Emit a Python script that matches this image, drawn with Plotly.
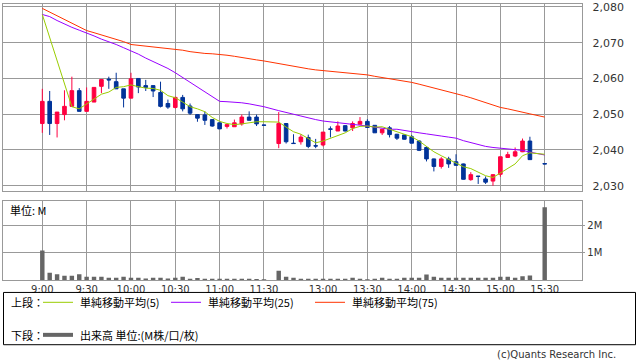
import plotly.graph_objects as go

W, H = 638, 362

# ---------------- data ----------------
time_labels = ["9:00", "9:30", "10:00", "10:30", "11:00", "11:30",
               "13:00", "13:30", "14:00", "14:30", "15:00", "15:30"]
time_tick_pos = [0, 6, 12, 18, 24, 30, 38, 44, 50, 56, 62, 68]

# 5-minute bar slots (slot 31 = lunch gap, slot 67 = pre-close gap)
bar_pos = list(range(0, 31)) + list(range(32, 67)) + [68]

opens = [2047.4, 2053.6, 2047.4, 2049.9, 2052.2, 2056.6, 2050.8, 2053.4, 2057.8, 2059.8,
         2059.1, 2057.1, 2054.5, 2060.0, 2058.0, 2058.0, 2056.1, 2053.0, 2051.9, 2054.7,
         2052.3, 2049.9, 2049.8, 2048.5, 2047.6, 2046.6, 2046.5, 2047.3, 2049.2, 2049.2,
         2047.0,
         2041.8, 2047.4, 2041.9, 2042.3, 2043.5, 2041.2, 2041.4, 2045.9, 2045.3, 2046.8,
         2046.2, 2047.2, 2048.0, 2046.9, 2044.8, 2046.2, 2044.4, 2044.2, 2043.7, 2042.5,
         2040.7, 2037.5, 2035.4, 2037.5, 2036.7, 2036.1, 2031.7, 2032.7, 2031.9, 2031.3,
         2033.2, 2037.9, 2038.3, 2039.5, 2042.5,
         2036.2]
highs = [2057.1, 2056.5, 2050.6, 2056.7, 2060.5, 2057.3, 2057.5, 2057.5, 2059.7, 2060.5,
         2061.6, 2057.1, 2061.6, 2060.0, 2059.6, 2058.0, 2059.1, 2054.1, 2054.9, 2055.4,
         2053.0, 2049.9, 2050.8, 2048.6, 2047.6, 2047.1, 2048.5, 2049.9, 2050.8, 2049.9,
         2047.0,
         2050.6, 2047.5, 2044.4, 2044.4, 2044.3, 2043.1, 2045.0, 2046.6, 2048.0, 2046.9,
         2048.0, 2049.2, 2048.6, 2046.9, 2045.8, 2046.7, 2044.5, 2044.3, 2044.2, 2042.7,
         2041.0, 2037.6, 2038.0, 2038.1, 2038.8, 2036.2, 2033.8, 2032.7, 2032.6, 2033.2,
         2038.1, 2039.5, 2040.7, 2043.2, 2043.7,
         2036.2]
lows = [2044.8, 2044.2, 2043.5, 2048.3, 2052.0, 2050.8, 2050.8, 2053.4, 2055.9, 2057.1,
        2057.1, 2051.9, 2054.5, 2055.9, 2056.5, 2054.8, 2051.9, 2051.5, 2051.6, 2050.8,
        2049.8, 2047.9, 2047.0, 2046.5, 2045.9, 2046.0, 2046.5, 2046.8, 2048.3, 2046.7,
        2046.9,
        2040.5, 2041.8, 2041.8, 2041.5, 2040.5, 2040.5, 2041.0, 2043.5, 2045.3, 2045.2,
        2045.3, 2047.2, 2046.2, 2044.8, 2044.2, 2043.5, 2042.8, 2042.9, 2041.9, 2039.7,
        2036.8, 2034.0, 2034.8, 2035.0, 2035.6, 2031.7, 2031.4, 2030.5, 2030.5, 2030.0,
        2032.5, 2037.9, 2038.0, 2039.4, 2037.3,
        2036.1]
closes = [2053.6, 2047.4, 2050.6, 2052.2, 2056.6, 2050.8, 2053.6, 2057.5, 2059.7, 2059.6,
          2057.1, 2054.5, 2059.9, 2057.6, 2057.5, 2056.5, 2052.2, 2052.0, 2054.7, 2051.5,
          2050.3, 2048.9, 2048.3, 2046.7, 2045.9, 2047.1, 2047.6, 2049.2, 2048.3, 2047.3,
          2046.9,
          2047.4, 2042.3, 2041.8, 2043.6, 2041.0, 2041.1, 2045.0, 2045.8, 2046.7, 2045.3,
          2047.4, 2048.0, 2046.3, 2044.8, 2045.8, 2044.3, 2043.3, 2043.0, 2041.9, 2039.9,
          2037.5, 2035.4, 2037.5, 2036.1, 2035.7, 2031.8, 2033.1, 2032.6, 2031.0, 2033.1,
          2038.1, 2038.7, 2039.5, 2042.5, 2037.3,
          2036.1]
volume_m = [1.08, 0.28, 0.22, 0.17, 0.17, 0.22, 0.13, 0.13, 0.13, 0.10,
            0.10, 0.13, 0.10, 0.10, 0.07, 0.10, 0.10, 0.07, 0.10, 0.13,
            0.06, 0.09, 0.06, 0.06, 0.06, 0.06, 0.06, 0.06, 0.06, 0.05,
            0.01,
            0.35, 0.13, 0.10, 0.06, 0.06, 0.06, 0.06, 0.06, 0.06, 0.06,
            0.10, 0.06, 0.03, 0.06, 0.10, 0.06, 0.06, 0.10, 0.10, 0.10,
            0.21, 0.13, 0.10, 0.10, 0.10, 0.10, 0.10, 0.10, 0.10, 0.10,
            0.13, 0.13, 0.10, 0.15, 0.18,
            2.65]
ma5 = [2077.9, 2071.6, 2065.3, 2059.0, 2052.1, 2051.5, 2052.8, 2054.1, 2055.6, 2056.2,
       2057.5, 2057.7, 2058.2, 2057.7, 2057.3, 2057.2, 2056.7, 2055.2, 2054.6, 2053.4,
       2052.1, 2051.5, 2050.7, 2049.1, 2048.0, 2047.4, 2047.1, 2047.3, 2047.6, 2047.9,
       2047.9,
       2047.8, 2046.4, 2045.1, 2044.4, 2043.2, 2042.0, 2042.5, 2043.3, 2043.9, 2044.8,
       2046.0, 2046.6, 2046.7, 2046.4, 2046.5, 2045.8, 2044.9, 2044.2, 2043.7, 2042.5,
       2041.1, 2039.5, 2038.4, 2037.3, 2036.4, 2035.3, 2034.8, 2033.9, 2032.8, 2032.3,
       2033.6, 2034.7, 2036.1, 2038.4, 2039.2,
       2038.8]
ma25 = [2077.9, 2077.3, 2076.2, 2075.2, 2074.3, 2073.5, 2072.8, 2071.9, 2071.0, 2070.3,
        2069.5, 2068.6, 2067.8, 2066.8, 2065.7, 2064.8, 2063.8, 2062.8, 2061.6, 2060.3,
        2059.0, 2057.6, 2056.2, 2055.0, 2053.6, 2053.5, 2053.4, 2053.2, 2052.9, 2052.5,
        2052.1,
        2051.0, 2050.4, 2050.0, 2049.5, 2048.9, 2048.5, 2048.1, 2047.9, 2047.6, 2047.4,
        2047.2, 2047.0, 2046.7, 2046.4, 2046.1, 2045.8, 2045.8, 2045.4, 2045.0, 2044.8,
        2044.5, 2044.3, 2043.9, 2043.6, 2043.3, 2042.6, 2042.0, 2041.4, 2041.0, 2040.7,
        2040.5, 2040.4, 2040.2, 2039.9, 2039.4,
        2038.6]
ma75 = [2079.6, 2078.6, 2077.6, 2076.6, 2075.5, 2074.4, 2073.4, 2072.8, 2072.2, 2071.6,
        2070.9, 2070.3, 2069.5, 2069.3, 2069.0, 2068.7, 2068.5, 2068.3, 2068.2, 2067.9,
        2067.5, 2067.2, 2067.0, 2066.9, 2066.8, 2066.5, 2066.2, 2065.8, 2065.5, 2065.2,
        2064.9,
        2064.1, 2063.8, 2063.4, 2063.0, 2062.7, 2062.4, 2062.2, 2062.0, 2061.8, 2061.6,
        2061.4, 2061.2, 2061.0, 2060.6, 2060.3, 2060.0, 2059.6, 2059.2, 2058.9, 2058.4,
        2057.9, 2057.4, 2056.9, 2056.4, 2055.9, 2055.2, 2054.6, 2053.9, 2053.2, 2052.6,
        2051.9, 2051.5, 2051.1, 2050.6, 2050.1,
        2049.2]

price_ticks = [2030, 2040, 2050, 2060, 2070, 2080]
vol_ticks = [1, 2]
vol_tick_text = ["1M", "2M"]

legend_labels = ["単純移動平均(5)", "単純移動平均(25)", "単純移動平均(75)"]
volume_legend = "出来高 単位:(M株/口/枚)"

# ---------------- style ----------------
UP = "#ff0040"
DOWN = "#003399"
C_MA5 = "#99cc00"
C_MA25 = "#9900ff"
C_MA75 = "#ff3300"
C_VOL = "#666666"
GRID = "#999999"
NUM_FONT = "DejaVu Sans"
JP_FONT = "Noto Sans CJK JP"
TXT = "#333333"


def px_x(p):
    return p / W


def px_y(p):
    return 1 - p / H


X_L, X_R = 3.3, 582.3
TOP_T, TOP_B = 1.0, 190.3
VOL_T, VOL_B = 201.0, 281.3
x_range = [-5.28, 73.09]

fig = go.Figure()

fig.add_trace(go.Candlestick(
    x=bar_pos, open=opens, high=highs, low=lows, close=closes,
    increasing=dict(line=dict(color=UP, width=1), fillcolor=UP),
    decreasing=dict(line=dict(color=DOWN, width=1), fillcolor=DOWN),
    whiskerwidth=0, xaxis="x", yaxis="y", showlegend=False, hoverinfo="skip",
))
for vals, col in [(ma75, C_MA75), (ma25, C_MA25), (ma5, C_MA5)]:
    fig.add_trace(go.Scatter(x=bar_pos, y=vals, mode="lines",
                             line=dict(color=col, width=1),
                             xaxis="x", yaxis="y", showlegend=False, hoverinfo="skip"))

fig.add_trace(go.Bar(x=bar_pos, y=volume_m, marker=dict(color=C_VOL, line=dict(width=0)),
                     width=0.6, xaxis="x2", yaxis="y2", showlegend=False, hoverinfo="skip"))

axis_common = dict(showgrid=True, gridcolor=GRID, gridwidth=1, zeroline=False,
                   showline=True, mirror=True, linecolor=GRID, linewidth=1)

fig.update_layout(
    width=W, height=H,
    margin=dict(l=0, r=0, t=0, b=0),
    paper_bgcolor="white", plot_bgcolor="white",
    xaxis=dict(domain=[px_x(X_L), px_x(X_R)], range=x_range, anchor="y",
               tickvals=time_tick_pos, showticklabels=False, ticks="",
               rangeslider=dict(visible=False), **axis_common),
    yaxis=dict(domain=[px_y(TOP_B), px_y(TOP_T)], range=[2028.62, 2080.83], anchor="x",
               side="right", tickvals=price_ticks, tickformat=",d",
               ticks="outside", ticklen=7, tickcolor="rgba(0,0,0,0)",
               ticklabeloverflow="allow",
               tickfont=dict(family=NUM_FONT, size=11, color=TXT), **axis_common),
    xaxis2=dict(domain=[px_x(X_L), px_x(X_R)], range=x_range, anchor="y2",
                tickvals=time_tick_pos, ticktext=time_labels, ticks="",
                ticklabeloverflow="allow",
                tickfont=dict(family=NUM_FONT, size=10, color=TXT), **axis_common),
    yaxis2=dict(domain=[px_y(VOL_B), px_y(VOL_T)], range=[0, (VOL_B - VOL_T) / 28.0], anchor="x2",
                side="right", tickvals=vol_ticks, ticktext=vol_tick_text,
                ticks="outside", ticklen=2, tickcolor=GRID,
                ticklabeloverflow="allow",
                tickfont=dict(family=NUM_FONT, size=10, color=TXT), **axis_common),
    bargap=0.4,
)

shapes = []
annotations = []

# 単位 label in volume panel
annotations.append(dict(x=px_x(8), y=px_y(210), xref="paper", yref="paper", text="単位: M",
                        showarrow=False, xanchor="left", yanchor="middle",
                        font=dict(family=JP_FONT, size=11, color="#000000")))

# legend box
shapes.append(dict(type="rect", xref="paper", yref="paper",
                   x0=px_x(3.5), x1=px_x(635.5), y0=px_y(346.5), y1=px_y(293.5),
                   line=dict(color="#000000", width=1), fillcolor="rgba(0,0,0,0)"))

row1, row2 = 303.5, 336.5
annotations.append(dict(x=px_x(9), y=px_y(row1), xref="paper", yref="paper", text="上段：",
                        showarrow=False, xanchor="left", yanchor="middle",
                        font=dict(family=JP_FONT, size=11, color="#000000")))
annotations.append(dict(x=px_x(9), y=px_y(row2), xref="paper", yref="paper", text="下段：",
                        showarrow=False, xanchor="left", yanchor="middle",
                        font=dict(family=JP_FONT, size=11, color="#000000")))

legend_items = [(43, 73, 78, C_MA5), (171, 201, 206, C_MA25), (315, 345, 350, C_MA75)]
for (lx0, lx1, tx, col), label in zip(legend_items, legend_labels):
    shapes.append(dict(type="line", xref="paper", yref="paper",
                       x0=px_x(lx0), x1=px_x(lx1), y0=px_y(row1), y1=px_y(row1),
                       line=dict(color=col, width=1)))
    annotations.append(dict(x=px_x(tx), y=px_y(row1), xref="paper", yref="paper", text=label,
                            showarrow=False, xanchor="left", yanchor="middle",
                            font=dict(family=JP_FONT, size=11, color="#000000")))

shapes.append(dict(type="line", xref="paper", yref="paper",
                   x0=px_x(43), x1=px_x(73), y0=px_y(row2), y1=px_y(row2),
                   line=dict(color=C_VOL, width=4)))
annotations.append(dict(x=px_x(78), y=px_y(row2), xref="paper", yref="paper", text=volume_legend,
                        showarrow=False, xanchor="left", yanchor="middle",
                        font=dict(family=JP_FONT, size=11, color="#000000")))

annotations.append(dict(x=px_x(618), y=px_y(356.5), xref="paper", yref="paper",
                        text="(c)Quants Research Inc.", showarrow=False,
                        xanchor="right", yanchor="middle",
                        font=dict(family=NUM_FONT, size=10, color=TXT)))

fig.update_layout(shapes=shapes, annotations=annotations)

fig.write_html("out.html",
               config={"displayModeBar": False},
               post_script="document.body.style.margin='0';document.body.style.overflow='hidden';")
